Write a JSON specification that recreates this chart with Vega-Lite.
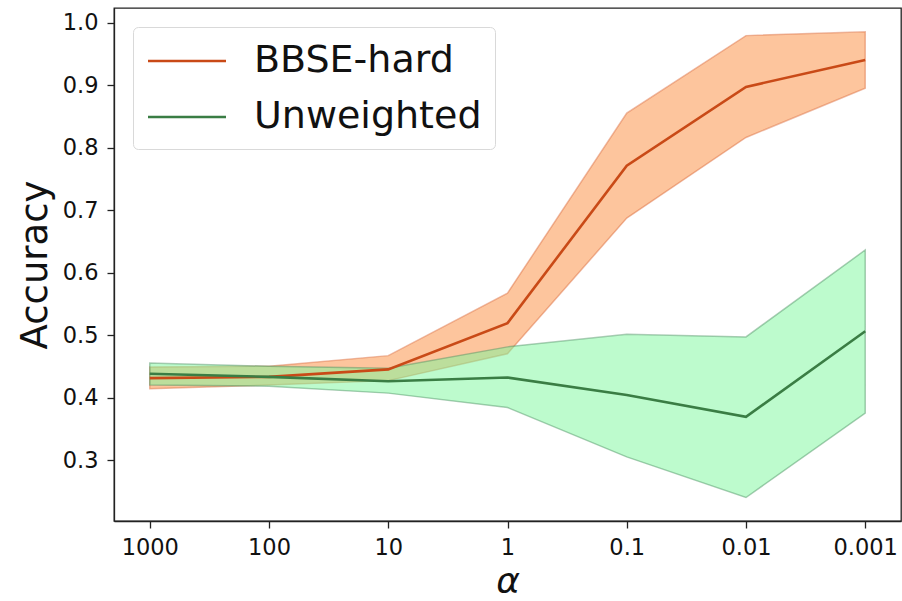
{
  "$schema": "https://vega.github.io/schema/vega-lite/v6.json",
  "width": 787,
  "height": 513,
  "autosize": {"type": "none"},
  "padding": {"left": 114, "top": 8, "right": 1, "bottom": 80},
  "background": "white",
  "config": {
    "font": "DejaVu Sans",
    "view": {"stroke": "#222", "strokeWidth": 1.3},
    "axis": {
      "grid": false,
      "domainColor": "#222",
      "domainWidth": 1.3,
      "tickColor": "#222",
      "tickWidth": 1.3,
      "tickSize": 7,
      "labelFont": "DejaVu Sans",
      "labelFontSize": 22.5,
      "labelColor": "#111",
      "titleFont": "DejaVu Sans",
      "titleFontWeight": "normal",
      "titleColor": "#111"
    }
  },
  "data": {
    "values": [
      {"alpha": "1000", "series": "BBSE-hard", "mean": 0.431, "lo": 0.414, "hi": 0.449},
      {"alpha": "100", "series": "BBSE-hard", "mean": 0.433, "lo": 0.42, "hi": 0.45},
      {"alpha": "10", "series": "BBSE-hard", "mean": 0.445, "lo": 0.427, "hi": 0.467},
      {"alpha": "1", "series": "BBSE-hard", "mean": 0.519, "lo": 0.47, "hi": 0.567},
      {"alpha": "0.1", "series": "BBSE-hard", "mean": 0.771, "lo": 0.687, "hi": 0.855},
      {"alpha": "0.01", "series": "BBSE-hard", "mean": 0.897, "lo": 0.816, "hi": 0.979},
      {"alpha": "0.001", "series": "BBSE-hard", "mean": 0.94, "lo": 0.895, "hi": 0.985},
      {"alpha": "1000", "series": "Unweighted", "mean": 0.438, "lo": 0.42, "hi": 0.455},
      {"alpha": "100", "series": "Unweighted", "mean": 0.433, "lo": 0.418, "hi": 0.45},
      {"alpha": "10", "series": "Unweighted", "mean": 0.426, "lo": 0.407, "hi": 0.447},
      {"alpha": "1", "series": "Unweighted", "mean": 0.432, "lo": 0.384, "hi": 0.481},
      {"alpha": "0.1", "series": "Unweighted", "mean": 0.404, "lo": 0.305, "hi": 0.501},
      {"alpha": "0.01", "series": "Unweighted", "mean": 0.369, "lo": 0.24, "hi": 0.497},
      {"alpha": "0.001", "series": "Unweighted", "mean": 0.506, "lo": 0.375, "hi": 0.636}
    ]
  },
  "encoding": {
    "x": {
      "field": "alpha",
      "type": "ordinal",
      "sort": ["1000", "100", "10", "1", "0.1", "0.01", "0.001"],
      "scale": {"type": "point", "padding": 0.3},
      "axis": {
        "title": "α",
        "titleFontSize": 36,
        "titleFontStyle": "italic",
        "titlePadding": 6,
        "labelAngle": 0,
        "labelPadding": 8
      }
    }
  },
  "layer": [
    {
      "mark": {"type": "area", "fillOpacity": 0.5, "strokeOpacity": 0.45, "strokeWidth": 1.5},
      "encoding": {
        "y": {
          "field": "lo",
          "type": "quantitative",
          "scale": {"domain": [0.2024, 1.0232], "nice": false, "zero": false},
          "axis": {
            "title": "Accuracy",
            "titleFontSize": 37,
            "titlePadding": 8,
            "values": [0.3, 0.4, 0.5, 0.6, 0.7, 0.8, 0.9, 1.0],
            "format": ".1f",
            "labelPadding": 9
          }
        },
        "y2": {"field": "hi"},
        "fill": {
          "field": "series",
          "type": "nominal",
          "scale": {"domain": ["BBSE-hard", "Unweighted"], "range": ["#fb8c3c", "#7cf79c"]},
          "legend": null
        },
        "stroke": {
          "field": "series",
          "type": "nominal",
          "scale": {"domain": ["BBSE-hard", "Unweighted"], "range": ["#d9693a", "#4a8f5f"]},
          "legend": null
        }
      }
    },
    {
      "mark": {"type": "line", "strokeWidth": 2.6},
      "encoding": {
        "y": {"field": "mean", "type": "quantitative"},
        "color": {
          "field": "series",
          "type": "nominal",
          "scale": {"domain": ["BBSE-hard", "Unweighted"], "range": ["#c94a17", "#3a7d44"]},
          "legend": {
            "title": null,
            "orient": "top-left",
            "offset": 19,
            "symbolType": "M-2,0H2",
            "symbolSize": 1521,
            "symbolStrokeWidth": 2.6,
            "symbolFillColor": "transparent",
            "symbolOffset": 20,
            "labelFontSize": 38,
            "labelFont": "DejaVu Sans",
            "labelColor": "#111",
            "labelLimit": 0,
            "labelOffset": 46,
            "rowPadding": 16,
            "padding": 13,
            "strokeColor": "#d9d9d9",
            "fillColor": "white",
            "cornerRadius": 5
          }
        }
      }
    }
  ],
  "resolve": {"scale": {"fill": "independent", "stroke": "independent"}}
}
